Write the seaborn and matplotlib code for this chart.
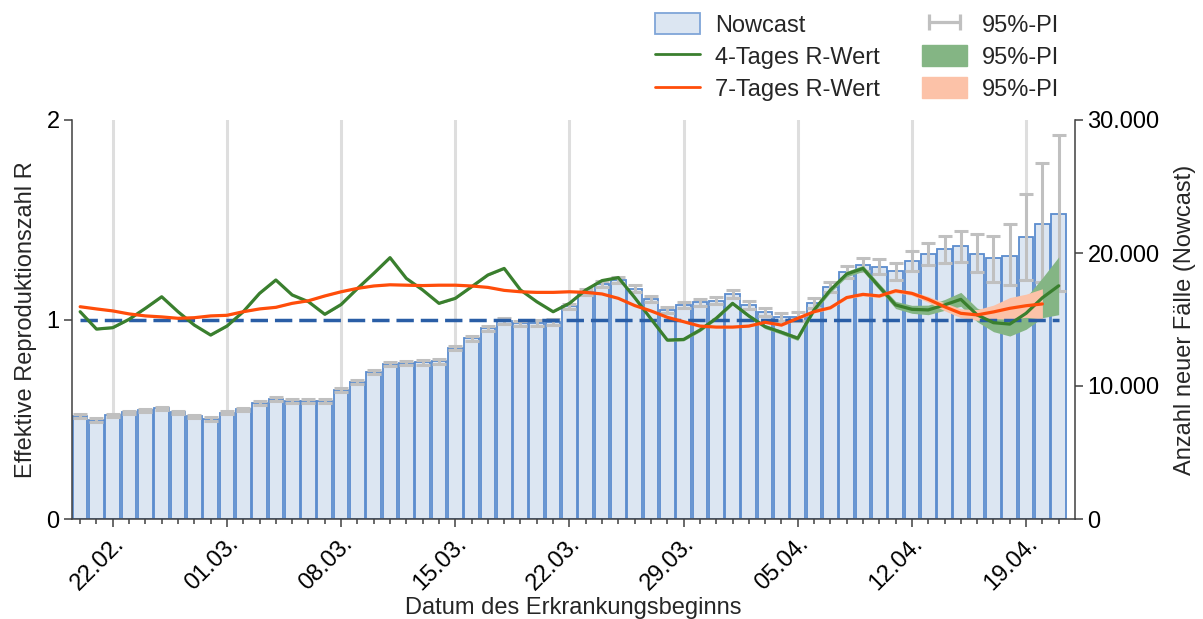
import numpy as np
import pandas as pd
import matplotlib
matplotlib.use('Agg')
import matplotlib.pyplot as plt
import matplotlib.ticker as mticker
from matplotlib.lines import Line2D
from matplotlib.patches import Patch
from matplotlib.legend_handler import HandlerLine2D
import seaborn as sns

# Erkrankungsbeginn 20.02.2021 - 21.04.2021
dates = pd.date_range('2021-02-20', '2021-04-21', freq='D')
day = np.arange(len(dates))

# Nowcast Fallzahlen
cases = [7745, 7444, 7797, 8020, 8170, 8320, 8020, 7720, 7519,
         7995, 8245, 8697, 9023, 8897, 8897, 8897, 9675, 10324, 11030,
         11632, 11707, 11782, 11857, 12857, 13587, 14339, 14888, 14715,
         14737, 14812, 15993, 17068, 17647, 17970, 17320, 16519, 15715,
         16090, 16293, 16414,
         16940, 16113, 15541, 15211, 15211, 16241, 17466, 18572, 19090,
         18972, 18622, 19399, 19925, 20301, 20552, 19950, 19600, 19800,
         21180, 22204, 22956]
err_lo = [120] * 9 + [130, 130, 140, 140, 140, 140, 140, 150, 150, 160, 160, 160, 170, 170,
          180, 180, 190, 190, 190, 200, 200, 210, 220, 220, 230,
          240, 240, 250, 260, 270, 280,
          290, 300, 300, 310, 330, 350, 380, 420,
          450, 550, 650, 750, 800, 1030, 1200, 1400, 1760, 2230, 3210, 4400, 5813]
err_hi = [120] * 9 + [130, 130, 140, 140, 140, 140, 140, 150, 150, 160, 160, 160, 170, 170,
          180, 180, 190, 190, 190, 200, 200, 210, 220, 220, 230,
          240, 240, 250, 260, 270, 280,
          290, 300, 300, 310, 330, 350, 380, 420,
          500, 580, 650, 775, 850, 955, 1100, 1450, 1700, 2380, 3280, 4590, 5917]

# 4-Tages R-Wert
r4 = [1.039, 0.952, 0.959, 1.001, 1.056, 1.114, 1.039, 0.972, 0.922,
      0.967, 1.039, 1.131, 1.198, 1.123, 1.089, 1.026, 1.075, 1.155, 1.231,
      1.310, 1.206, 1.148, 1.081, 1.106, 1.164, 1.223, 1.256, 1.148, 1.089,
      1.039, 1.081, 1.148, 1.195, 1.210, 1.110, 1.003, 0.897, 0.900, 0.947,
      1.006,
      1.081, 1.018, 0.964, 0.936, 0.906, 1.048, 1.148, 1.228, 1.256, 1.164,
      1.073, 1.051, 1.048, 1.073, 1.101, 1.023, 0.984, 0.977, 1.031, 1.109,
      1.169]
r4_ci = [0.004] * 34 + [0.006, 0.006, 0.007, 0.007, 0.008, 0.008, 0.009, 0.009,
                        0.010, 0.010, 0.011, 0.012, 0.013, 0.014,
                        0.015, 0.016, 0.018, 0.020, 0.024, 0.027, 0.035, 0.034,
                        0.045, 0.060, 0.080, 0.100, 0.145]

# 7-Tages R-Wert (bis 20.04.)
r7 = [1.064, 1.053, 1.043, 1.028, 1.018, 1.013, 1.006, 1.009, 1.018,
      1.021, 1.039, 1.053, 1.061, 1.081, 1.094, 1.118, 1.139, 1.156, 1.168,
      1.174, 1.172, 1.170, 1.172, 1.172, 1.168, 1.161, 1.146, 1.139, 1.136,
      1.136, 1.139, 1.136, 1.128, 1.106, 1.070, 1.043, 1.011, 0.989, 0.967,
      0.962,
      0.962, 0.967, 0.986, 0.972, 1.006, 1.039, 1.059, 1.110, 1.126, 1.118,
      1.144, 1.131, 1.101, 1.064, 1.031, 1.023, 1.038, 1.056, 1.069, 1.078]
r7_ci = [0.003] * 40 + [0.004, 0.004, 0.005, 0.005, 0.006, 0.006, 0.007, 0.007,
                        0.008, 0.008, 0.009,
                        0.010, 0.015, 0.020, 0.022, 0.027, 0.034, 0.054, 0.058, 0.076]

week_idx = day[2::7]
week_labels = dates[2::7].strftime('%d.%m.')

bar_face = '#dce6f2'
bar_edge = '#5b8cce'
err_col = '#c0c0c0'
green = '#3a7f2e'
green_band = '#84b584'
orange = '#ff4d0a'
orange_band = '#fcc2a8'
ref_blue = '#2a5ea6'

sns.set_style('ticks')
plt.rcParams['font.family'] = ['Liberation Sans', 'DejaVu Sans']
plt.rcParams['font.size'] = 17
plt.rcParams['axes.edgecolor'] = '#404040'
plt.rcParams['xtick.color'] = '#404040'
plt.rcParams['ytick.color'] = '#404040'
plt.rcParams['xtick.labelcolor'] = 'black'
plt.rcParams['ytick.labelcolor'] = 'black'

fig = plt.figure(figsize=(12.03, 6.19), dpi=100)
ax = fig.add_axes([72 / 1203, 1 - 519 / 619, (1075 - 72) / 1203, (519 - 120) / 619])

# Balken (Nowcast) auf der rechten Achse
df = pd.DataFrame({'tag': day, 'faelle': cases})
sns.barplot(data=df, x='tag', y='faelle', native_scale=True, width=0.9,
            color=bar_face, saturation=1, edgecolor=bar_edge, linewidth=1.3,
            errorbar=None, ax=ax)
ax.errorbar(day, cases, yerr=[err_lo, err_hi], fmt='none', ecolor=err_col,
            elinewidth=2.2, capsize=5, capthick=2.2, zorder=3)

ax2 = ax.twinx()

# R-Werte auf der linken Achse
r4_arr = np.array(r4)
r4_ci_arr = np.array(r4_ci)
r7_arr = np.array(r7)
r7_ci_arr = np.array(r7_ci)
ax2.fill_between(day, r4_arr - r4_ci_arr, r4_arr + r4_ci_arr, color=green_band, lw=0, zorder=1)
ax2.fill_between(day[:len(r7)], r7_arr - r7_ci_arr, r7_arr + r7_ci_arr, color=orange_band, lw=0, zorder=1.1)
ax2.hlines(1, day[0], day[-1], colors=ref_blue, lw=2.5, linestyles=(0, (5, 2)), zorder=2)
sns.lineplot(x=day, y=r4, color=green, lw=2.3, ax=ax2, zorder=3)
sns.lineplot(x=day[:len(r7)], y=r7, color=orange, lw=2.3, ax=ax2, zorder=3)

ax.set_xlim(-0.5, 61)
ax.set_ylim(0, 30000)
ax2.set_ylim(0, 2)

ax.yaxis.tick_right()
ax.yaxis.set_label_position('right')
ax2.yaxis.tick_left()
ax2.yaxis.set_label_position('left')

ax.set_yticks([0, 10000, 20000, 30000])
ax.yaxis.set_major_formatter(mticker.FuncFormatter(lambda v, p: f'{int(v):,}'.replace(',', '.')))
ax2.set_yticks([0, 1, 2])

ax.xaxis.set_major_locator(mticker.FixedLocator(week_idx))
ax.xaxis.set_major_formatter(mticker.FixedFormatter(list(week_labels)))
ax.xaxis.set_minor_locator(mticker.FixedLocator(day))
plt.setp(ax.get_xticklabels(), rotation=45, ha='right', rotation_mode='anchor')

ax.tick_params(axis='x', which='major', length=5.5, width=1.1, pad=4)
ax.tick_params(axis='x', which='minor', length=3.5, width=1.1)
ax.tick_params(axis='y', length=5.5, width=1.1)
ax2.tick_params(axis='y', length=5.5, width=1.1)

ax.grid(axis='x', which='major', color='#dedede', lw=2.2)
ax.set_axisbelow(True)

for s in ['top']:
    ax.spines[s].set_visible(False)
for s in ['top', 'left', 'right', 'bottom']:
    ax2.spines[s].set_visible(False)
for s in ['left', 'right', 'bottom']:
    ax.spines[s].set_linewidth(1.1)

ax.set_xlabel('Datum des Erkrankungsbeginns', labelpad=2)
ax.set_ylabel('Anzahl neuer Fälle (Nowcast)', rotation=90, labelpad=10)
ax2.set_ylabel('Effektive Reproduktionszahl R', labelpad=7)

# Legende
h_bar = Patch(facecolor=bar_face, edgecolor='#7fa5d8', lw=1.3)
h_r4 = Line2D([], [], color=green, lw=2.0)
h_r7 = Line2D([], [], color=orange, lw=2.0)
h_err = Line2D([], [], color=err_col, lw=2.3, marker='|', markersize=12, markeredgewidth=2.3)
h_g = Patch(color=green_band)
h_o = Patch(color=orange_band)
fig.legend([h_bar, h_r4, h_r7, h_err, h_g, h_o],
           ['Nowcast', '4-Tages R-Wert', '7-Tages R-Wert', '95%-PI', '95%-PI', '95%-PI'],
           ncol=2, loc='upper right', bbox_to_anchor=(1059 / 1203, 1 - 13 / 619),
           frameon=False, borderpad=0, borderaxespad=0,
           handlelength=1.9, handleheight=1.0, handletextpad=0.62,
           columnspacing=1.8, labelspacing=0.36,
           handler_map={h_err: HandlerLine2D(numpoints=2)})

fig.savefig('out.png', dpi=100)
